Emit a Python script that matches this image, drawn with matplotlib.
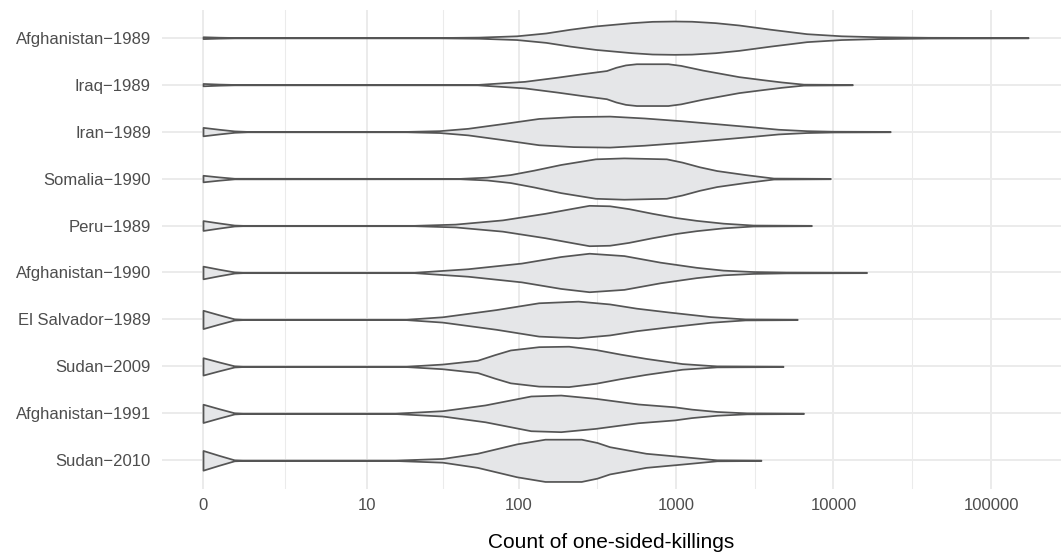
import numpy as np
import matplotlib
matplotlib.use("Agg")
import matplotlib.pyplot as plt

plt.rcParams['font.family'] = ['Liberation Sans', 'DejaVu Sans']

# Rows from top to bottom
categories = ['Afghanistan\u22121989', 'Iraq\u22121989', 'Iran\u22121989', 'Somalia\u22121990',
              'Peru\u22121989', 'Afghanistan\u22121990', 'El Salvador\u22121989', 'Sudan\u22122009',
              'Afghanistan\u22121991', 'Sudan\u22122010']

# Violin outlines: counts and half-widths (fraction of row spacing)
violin_counts = [
    [0, 0.26, 0.58, 30.6, 55.2, 96.7, 148.6, 212.8, 308, 524, 707, 976, 1258, 1778, 2511, 3980, 6760, 11220, 19050, 39810, 171800],
    [0, 0.26, 0.58, 54, 108.6, 176.8, 250.2, 362, 416, 478, 561, 890, 1071, 1258, 1478, 2511, 3547, 4676, 6456, 13180],
    [0, 0.26, 0.58, 0.905, 18.5, 30.6, 46.9, 78.4, 133.9, 222.9, 379, 630, 1095, 1777, 3089, 4466, 6760, 9999, 22910],
    [0, 0.26, 0.58, 41.7, 62.1, 88.1, 124.9, 185.2, 308, 467, 870, 1095, 1412, 1819, 2753, 4168, 9549],
    [0, 0.26, 0.58, 0.778, 20.9, 38.8, 78.4, 146.9, 222.9, 280.8, 379, 500, 707, 999, 1348, 1994, 3089, 7243],
    [0, 0.26, 0.58, 0.778, 20.9, 46.9, 103.7, 185.2, 280.8, 467, 793, 1348, 1994, 3089, 5011, 16220],
    [0, 0.26, 0.58, 0.778, 18.5, 32.1, 71.4, 133.9, 238.9, 379, 561, 890, 1659, 2753, 5888],
    [0, 0.26, 0.58, 0.778, 18.5, 32.1, 54, 69.8, 88.1, 133.9, 207.9, 308, 445.7, 645, 1095, 1819, 4785],
    [0, 0.26, 0.58, 0.778, 15.6, 32.1, 60.7, 119.2, 185.2, 308, 574, 976, 1258, 1819, 2817, 6456],
    [0, 0.26, 0.58, 0.778, 15.6, 32.1, 54, 96.7, 146.9, 250.2, 315, 379, 645, 1095, 1819, 3467],
]
violin_widths = [
    [0.02, 0.01, 0.004, 0.004, 0.012, 0.04, 0.10, 0.18, 0.25, 0.32, 0.348, 0.355, 0.35, 0.32, 0.27, 0.18, 0.085, 0.04, 0.02, 0.008, 0.004],
    [0.025, 0.012, 0.004, 0.004, 0.07, 0.16, 0.23, 0.30, 0.37, 0.42, 0.445, 0.445, 0.41, 0.36, 0.31, 0.17, 0.106, 0.057, 0.01, 0.004],
    [0.09, 0.05, 0.015, 0.004, 0.004, 0.02, 0.07, 0.17, 0.28, 0.32, 0.33, 0.29, 0.23, 0.17, 0.10, 0.05, 0.02, 0.008, 0.004],
    [0.07, 0.035, 0.006, 0.004, 0.03, 0.085, 0.18, 0.30, 0.42, 0.44, 0.42, 0.35, 0.25, 0.17, 0.085, 0.01, 0.004],
    [0.105, 0.055, 0.01, 0.004, 0.004, 0.03, 0.12, 0.26, 0.37, 0.43, 0.42, 0.36, 0.26, 0.17, 0.11, 0.05, 0.01, 0.004],
    [0.135, 0.07, 0.012, 0.004, 0.004, 0.08, 0.20, 0.34, 0.41, 0.36, 0.22, 0.11, 0.05, 0.02, 0.008, 0.004],
    [0.195, 0.10, 0.012, 0.004, 0.004, 0.057, 0.21, 0.355, 0.39, 0.33, 0.24, 0.16, 0.06, 0.01, 0.004],
    [0.185, 0.095, 0.012, 0.004, 0.004, 0.05, 0.13, 0.25, 0.35, 0.42, 0.43, 0.36, 0.26, 0.17, 0.06, 0.01, 0.004],
    [0.195, 0.10, 0.012, 0.004, 0.004, 0.057, 0.18, 0.37, 0.39, 0.32, 0.20, 0.14, 0.09, 0.04, 0.01, 0.004],
    [0.21, 0.106, 0.01, 0.004, 0.004, 0.04, 0.15, 0.35, 0.45, 0.45, 0.38, 0.29, 0.15, 0.08, 0.01, 0.004],
]

tick_values = [0, 10, 100, 1000, 10000, 100000]
tick_labels = ['0', '10', '100', '1000', '10000', '100000']


def fwd(x):
    return np.log10(np.asarray(x, dtype=float) + 1)


def inv(t):
    return 10 ** np.asarray(t, dtype=float) - 1


fig = plt.figure(figsize=(10.61, 5.54), dpi=100)
ax = fig.add_axes([162 / 1061, (554 - 488.5) / 554, (1061 - 162) / 1061, 479 / 554])
ax.set_xscale('function', functions=(fwd, inv))

for i, (xs, ws) in enumerate(zip(violin_counts, violin_widths)):
    xs = np.array(xs)
    ws = np.array(ws)
    ax.fill_between(xs, i - ws, i + ws, facecolor='#E5E6E8', edgecolor='#555555',
                    linewidth=1.25, zorder=3)

ax.set_xlim(-0.4507, 278000)
ax.set_ylim(len(categories) - 0.4, -0.6)

# grid: majors at ticks, minors halfway in transformed space
minor = inv((fwd(tick_values[:-1]) + fwd(tick_values[1:])) / 2)
ax.set_xticks(tick_values)
ax.set_xticklabels(tick_labels)
ax.set_xticks(minor, minor=True)
ax.set_yticks(range(len(categories)))
ax.set_yticklabels(categories)

ax.grid(True, which='major', color='#EBEBEB', linewidth=1.4, zorder=0)
ax.grid(True, which='minor', axis='x', color='#EBEBEB', linewidth=0.75, zorder=0)
ax.set_axisbelow(True)

for s in ax.spines.values():
    s.set_visible(False)
ax.tick_params(axis='both', which='both', length=0, labelcolor='#4D4D4D', labelsize=12)
ax.tick_params(axis='x', pad=7)
ax.tick_params(axis='y', pad=8)

ax.set_xlabel('Count of one-sided-killings', fontsize=15, color='black', labelpad=14)

fig.savefig('out.png', dpi=100)
